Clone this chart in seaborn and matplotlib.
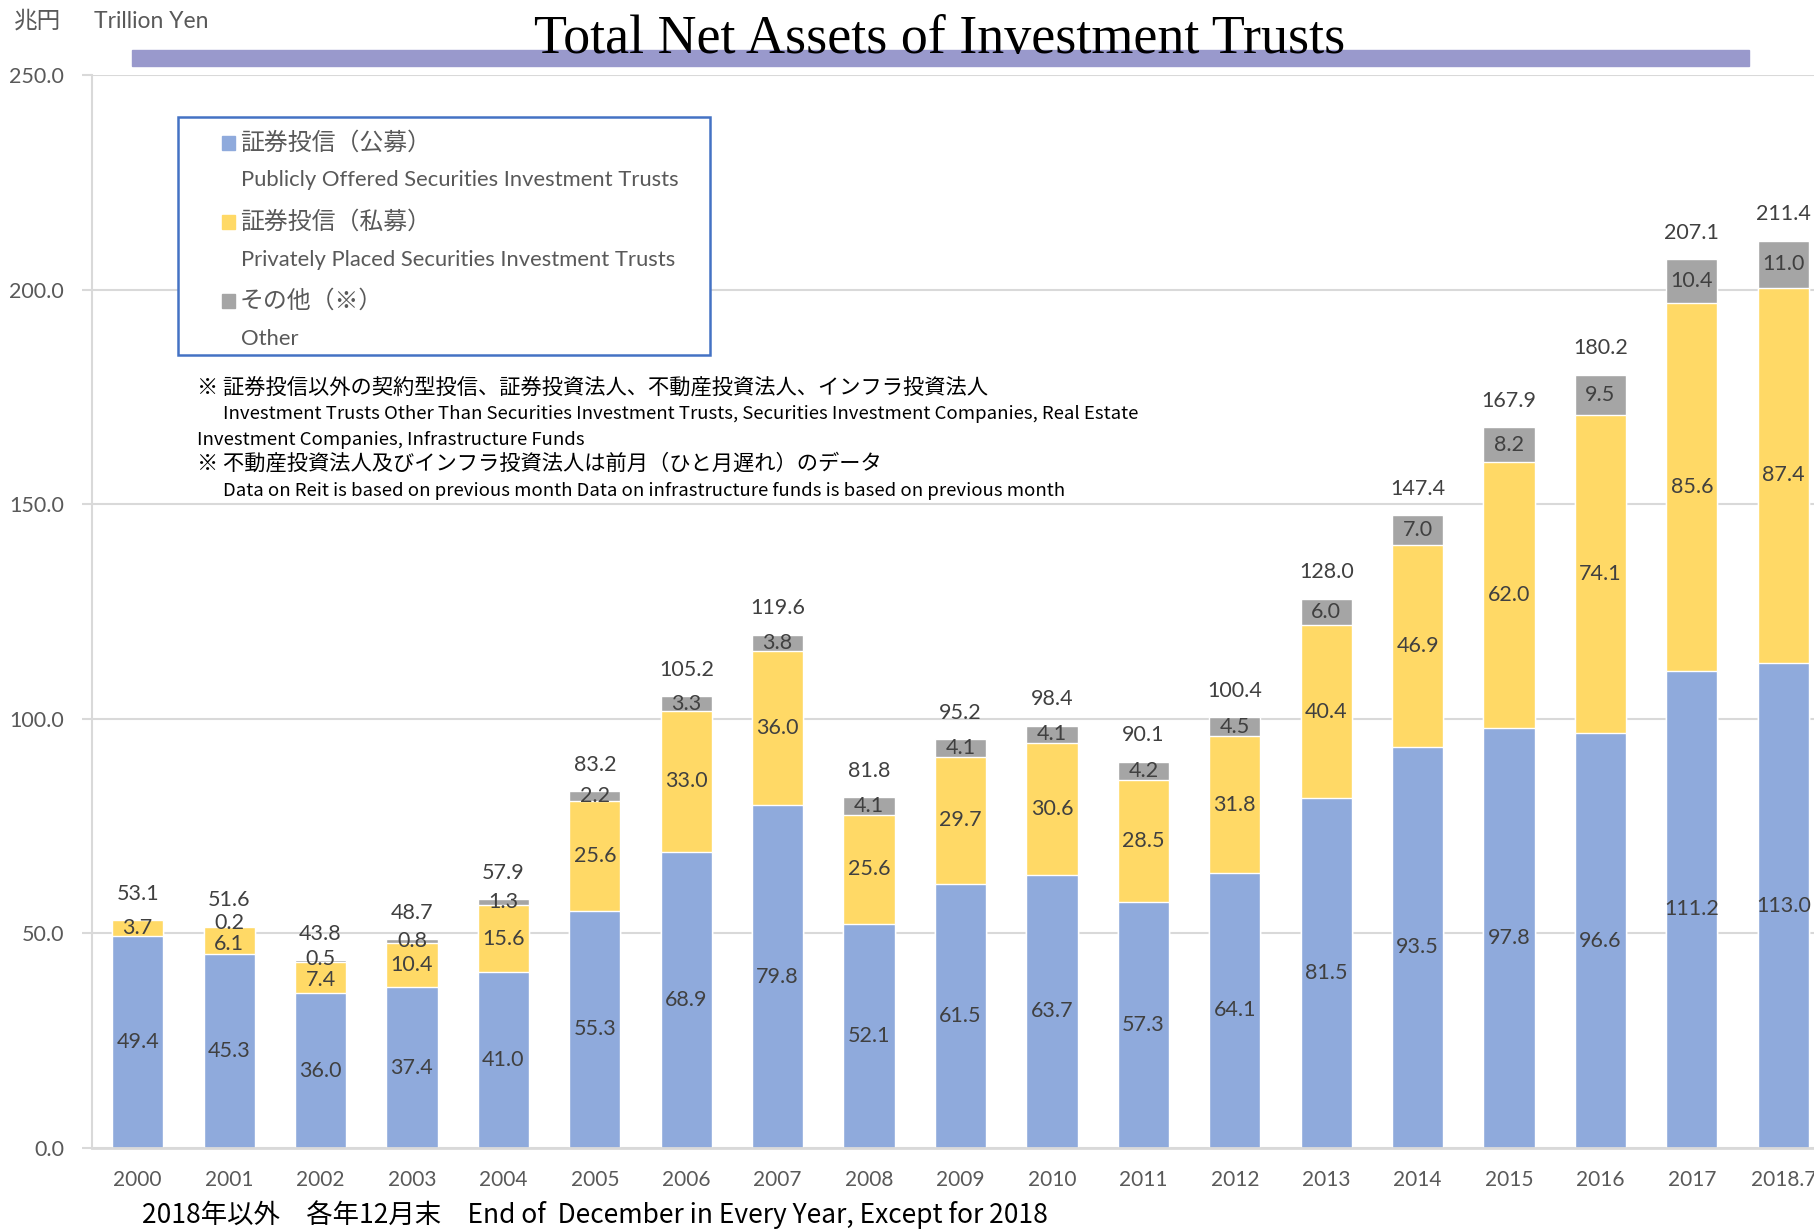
import matplotlib
matplotlib.use('Agg')
import matplotlib.pyplot as plt
from matplotlib.patches import Rectangle
import numpy as np
import pandas as pd
import seaborn as sns

years = ['2000', '2001', '2002', '2003', '2004', '2005', '2006', '2007', '2008', '2009',
         '2010', '2011', '2012', '2013', '2014', '2015', '2016', '2017', '2018.7']
public = [49.4, 45.3, 36.0, 37.4, 41.0, 55.3, 68.9, 79.8, 52.1, 61.5,
          63.7, 57.3, 64.1, 81.5, 93.5, 97.8, 96.6, 111.2, 113.0]
private = [3.7, 6.1, 7.4, 10.4, 15.6, 25.6, 33.0, 36.0, 25.6, 29.7,
           30.6, 28.5, 31.8, 40.4, 46.9, 62.0, 74.1, 85.6, 87.4]
other = [0.0, 0.2, 0.5, 0.8, 1.3, 2.2, 3.3, 3.8, 4.1, 4.1,
         4.1, 4.2, 4.5, 6.0, 7.0, 8.2, 9.5, 10.4, 11.0]
total = [53.1, 51.6, 43.8, 48.7, 57.9, 83.2, 105.2, 119.6, 81.8, 95.2,
         98.4, 90.1, 100.4, 128.0, 147.4, 167.9, 180.2, 207.1, 211.4]

c_pub = '#8FAADC'
c_priv = '#FFD966'
c_oth = '#A5A5A5'

sns.set_style('white')
plt.rcParams['font.family'] = ['Lato', 'Noto Sans CJK JP', 'DejaVu Sans']

df = pd.DataFrame({'year': years, 'public': public, 'private': private, 'other': other})
df['lvl2'] = df['public'] + df['private']
df['lvl3'] = df['lvl2'] + df['other']

W, H = 1814, 1230
fig = plt.figure(figsize=(W / 100, H / 100), dpi=100)
ax = fig.add_axes([92 / W, 1 - 1148 / H, 1737 / W, (1148 - 75) / H])

# stacked bars drawn as cumulative layers
sns.barplot(data=df, x='year', y='lvl3', color=c_oth, width=0.56, saturation=1, ax=ax)
sns.barplot(data=df, x='year', y='lvl2', color=c_priv, width=0.56, saturation=1, ax=ax)
sns.barplot(data=df, x='year', y='public', color=c_pub, width=0.56, saturation=1, ax=ax)

ax.set_ylim(0, 250)
ax.set_xlim(-0.5, len(years) - 0.5)
ax.set_yticks(np.arange(0, 251, 50))
ax.set_yticklabels([f'{v:.1f}' for v in np.arange(0, 251, 50)])
ax.set_xlabel('')
ax.set_ylabel('')
ax.yaxis.grid(True, color='#D9D9D9', linewidth=1.5)
ax.set_axisbelow(True)
for s in ['top', 'right']:
    ax.spines[s].set_visible(False)
ax.spines['left'].set_color('#D9D9D9')
ax.spines['left'].set_linewidth(1.5)
ax.spines['bottom'].set_color('#D9D9D9')
ax.spines['bottom'].set_linewidth(2)
ax.tick_params(axis='y', length=7, width=1.5, color='#D9D9D9', pad=13,
               labelsize=15.5, labelcolor='#595959', left=True)
ax.tick_params(axis='x', length=0, pad=16, labelsize=15, labelcolor='#595959')

# data labels (push apart the small ones so they don't collide, like Excel does)
lab = dict(ha='center', va='center', fontsize=15.5, color='#404040')
min_gap = 4.9
for i in range(len(years)):
    y_pub = public[i] / 2
    y_priv = public[i] + private[i] / 2
    y_oth = public[i] + private[i] + other[i] / 2
    if other[i] > 0 and y_oth - y_priv < min_gap:
        d = (min_gap - (y_oth - y_priv)) / 2
        y_oth += d
        y_priv -= d
    ax.text(i, y_pub, f'{public[i]:.1f}', **lab)
    ax.text(i, y_priv, f'{private[i]:.1f}', **lab)
    if other[i] > 0:
        ax.text(i, y_oth, f'{other[i]:.1f}', **lab)
    ax.annotate(f'{total[i]:.1f}', (i, total[i]), xytext=(0, 19), textcoords='offset points', **lab)

# title with band behind
fig.patches.append(Rectangle((132 / W, 1 - 66 / H), (1749 - 132) / W, 16 / H,
                             transform=fig.transFigure, color='#9999CC', zorder=0))
fig.text(940 / W, 1 - 53 / H, 'Total Net Assets of Investment Trusts', ha='center', va='baseline',
         fontsize=38.9, family=['Liberation Serif'], color='black', zorder=3)

fig.text(14 / W, 1 - 21 / H, '兆円', ha='left', va='center', fontsize=17,
         family=['Noto Sans CJK JP'], color='#595959')
fig.text(94 / W, 1 - 22 / H, 'Trillion Yen', ha='left', va='center', fontsize=16.5, color='#595959')

# legend box
fig.patches.append(Rectangle((178 / W, 1 - 355 / H), (710 - 178) / W, (355 - 117) / H,
                             transform=fig.transFigure, fill=True, facecolor='white',
                             edgecolor='#4472C4', linewidth=1.8, zorder=2))
leg_jp = ['証券投信（公募）', '証券投信（私募）', 'その他（※）']
leg_en = ['Publicly Offered Securities Investment Trusts',
          'Privately Placed Securities Investment Trusts', 'Other']
leg_col = [c_pub, c_priv, c_oth]
for k in range(3):
    yj = 143 + k * 79
    ye = 180 + k * 79.5
    fig.patches.append(Rectangle((222 / W, 1 - (yj + 6.5) / H), 13 / W, 13 / H,
                                 transform=fig.transFigure, color=leg_col[k], zorder=3))
    fig.text(240 / W, 1 - yj / H, leg_jp[k], ha='left', va='center', fontsize=17.2,
             family=['Noto Sans CJK JP'], color='#595959', zorder=4)
    fig.text(241 / W, 1 - ye / H, leg_en[k], ha='left', va='center', fontsize=15.8,
             color='#595959', zorder=4)

# notes
note_jp = dict(ha='left', va='center', family=['Noto Sans CJK JP'], color='black', fontsize=15.3)
note_en = dict(ha='left', va='center', family=['Noto Sans CJK JP'], color='black', fontsize=13.4)
fig.text(197 / W, 1 - 388 / H, '※ 証券投信以外の契約型投信、証券投資法人、不動産投資法人、インフラ投資法人', **note_jp)
fig.text(223 / W, 1 - 414 / H, 'Investment Trusts Other Than Securities Investment Trusts, Securities Investment Companies, Real Estate', **note_en)
fig.text(197 / W, 1 - 440 / H, 'Investment Companies, Infrastructure Funds', **note_en)
fig.text(197 / W, 1 - 464 / H, '※ 不動産投資法人及びインフラ投資法人は前月（ひと月遅れ）のデータ', **note_jp)
fig.text(223 / W, 1 - 491 / H, 'Data on Reit is based on previous month Data on infrastructure funds is based on previous month', **note_en)

fig.text(142 / W, 1 - 1215 / H, '2018年以外　各年12月末　End of  December in Every Year, Except for 2018',
         ha='left', va='center', fontsize=19, family=['Noto Sans CJK JP'], color='black')

fig.savefig('out.png', dpi=100)
